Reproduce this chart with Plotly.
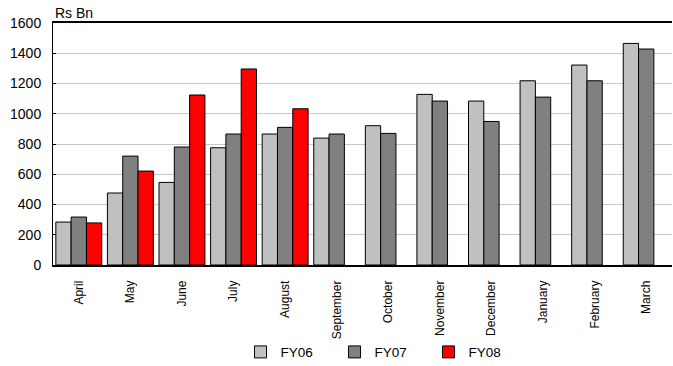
import plotly.graph_objects as go

months = ["April", "May", "June", "July", "August", "September", "October",
          "November", "December", "January", "February", "March"]
fy06 = [284, 476, 546, 775, 866, 839, 921, 1128, 1084, 1218, 1322, 1465]
fy07 = [317, 720, 780, 866, 910, 866, 870, 1084, 949, 1110, 1218, 1428]
fy08 = [278, 621, 1124, 1296, 1033, None, None, None, None, None, None, None]
yticks = [0, 200, 400, 600, 800, 1000, 1200, 1400, 1600]

FONT = "Liberation Sans, Arial, sans-serif"

fig = go.Figure()
for name, vals, col in [("FY06", fy06, "#C0C0C0"), ("FY07", fy07, "#808080"), ("FY08", fy08, "#FF0000")]:
    fig.add_trace(go.Bar(x=months, y=vals, name=name,
                         marker=dict(color=col, line=dict(color="#000000", width=1))))

fig.update_layout(
    template="none",
    width=673, height=366,
    margin=dict(l=53, r=1, t=23, b=101, autoexpand=False),
    plot_bgcolor="white", paper_bgcolor="white",
    barmode="group", bargap=0.11, bargroupgap=0,
    font=dict(family=FONT, size=13, color="#000000"),
    showlegend=True,
    legend=dict(orientation="h", x=0.303, xanchor="left", y=-0.36, yanchor="middle",
                font=dict(size=13.5), entrywidth=49, entrywidthmode="pixels",
                itemwidth=30, tracegroupgap=0, bgcolor="rgba(0,0,0,0)"),
    xaxis=dict(tickangle=-90, tickfont=dict(size=12), showline=True, mirror=True,
               linecolor="#000000", linewidth=1.5, ticks="", showgrid=False,
               automargin=False, ticklabelstandoff=9),
    yaxis=dict(range=[0, 1600], tickvals=yticks, showline=True, linecolor="#000000",
               linewidth=1, showgrid=True, gridcolor="#C8C8C8", gridwidth=1,
               ticks="inside", ticklen=3, tickcolor="#000000", tickfont=dict(size=14),
               zeroline=False, ticklabelstandoff=8, automargin=False),
    annotations=[dict(text="Rs Bn", xref="paper", yref="paper", x=0, y=1, xanchor="left",
                      yanchor="bottom", showarrow=False, xshift=0, yshift=0,
                      font=dict(size=14))],
)

fig.write_html("out.html", config={"displayModeBar": False},
               post_script="document.body.style.margin='0';document.body.style.padding='0';")
